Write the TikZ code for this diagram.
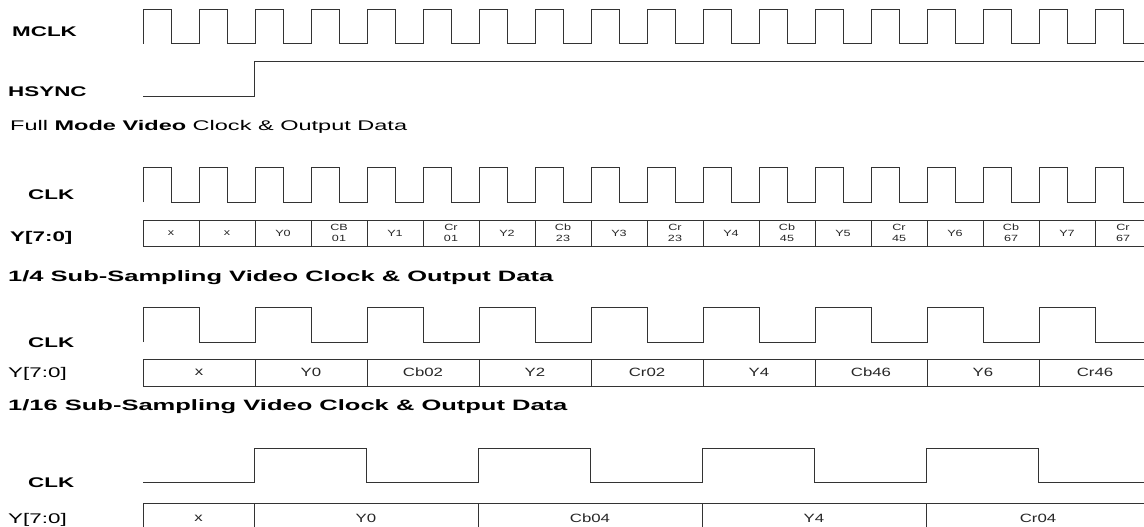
\documentclass[tikz,border=0pt]{standalone}
\usepackage{fontspec}
\setmainfont{Liberation Sans}
\newfontfamily\wideL[FakeStretch=1.6]{Liberation Sans}
\newfontfamily\wideT[FakeStretch=1.7]{Liberation Sans}
\newfontfamily\wideF[FakeStretch=1.68]{Liberation Sans}
\newfontfamily\wideC[FakeStretch=1.4]{Liberation Sans}
\begin{document}
\begin{tikzpicture}[x=1pt,y=-1pt,
  wave/.style={line width=1pt, draw=black!80, line join=miter},
  lbl/.style={anchor=base west, inner sep=0pt, font=\wideL\bfseries\fontsize{14}{16}\selectfont},
  lblr/.style={anchor=base west, inner sep=0pt, font=\wideL\fontsize{14}{16}\selectfont},
  ttl/.style={anchor=base west, inner sep=0pt, font=\wideT\bfseries\fontsize{15}{17}\selectfont},
  ttlr/.style={anchor=base west, inner sep=0pt, font=\wideF\fontsize{14}{16}\selectfont},
  cellA/.style={inner sep=0pt, font=\wideC\fontsize{9}{10.5}\selectfont, align=center, text=black!85},
  cellB/.style={inner sep=0pt, font=\wideC\fontsize{12}{14}\selectfont, text=black!85},
]
\useasboundingbox (0,0) rectangle (1144,527);
\clip (0,0) rectangle (1144,527);
\fill[white] (0,0) rectangle (1144,527);

% ---------- labels ----------
\node[lbl] (mclk) at (12,37) {MCLK};
\node[lbl] (hsync) at (8,96) {HSYNC};
\node[ttlr] (t1) at (10,130) {Full \textbf{Mode Video} Clock \& Output Data};
\node[lbl] (clk1) at (28,199) {CLK};
\node[lbl] (y1) at (10,241) {Y[7:0]};
\node[ttl] (t2) at (8,281) {1/4 Sub-Sampling Video Clock \& Output Data};
\node[lbl] (clk2) at (28,347) {CLK};
\node[lblr] (y2) at (8,377) {Y[7:0]};
\node[ttl] (t3) at (8,410) {1/16 Sub-Sampling Video Clock \& Output Data};
\node[lbl] (clk3) at (28,487) {CLK};
\node[lblr] (y3) at (8,523) {Y[7:0]};

% ---------- MCLK ----------
\draw[wave] (143,44) foreach \k in {0,...,17} {
  -- ({143+56*\k},10) -- ({171+56*\k},10) -- ({171+56*\k},44) -- ({199+56*\k},44) };
% ---------- HSYNC ----------
\draw[wave] (143,97) -- (254,97) -- (254,62) -- (1144,62);

% ---------- Full mode CLK ----------
\draw[wave] (143,202) foreach \k in {0,...,17} {
  -- ({143+56*\k},167) -- ({171+56*\k},167) -- ({171+56*\k},202) -- ({199+56*\k},202) };
% ---------- Full mode data ----------
\draw[wave] (143,220) -- (1144,220);
\draw[wave] (143,246) -- (1144,246);
\foreach \k in {0,...,17} \draw[wave] ({143+56*\k},220) -- ({143+56*\k},246);
\foreach \t [count=\i from 0] in {x,x,Y0,{CB\\01},Y1,{Cr\\01},Y2,{Cb\\23},Y3,{Cr\\23},Y4,{Cb\\45},Y5,{Cr\\45},Y6,{Cb\\67},Y7,{Cr\\67}}
  \node[cellA] (f\i) at ({171+56*\i},233) {\t};

% ---------- 1/4 CLK ----------
\draw[wave] (143,342) foreach \k in {0,...,8} {
  -- ({143+112*\k},307) -- ({199+112*\k},307) -- ({199+112*\k},342) -- ({255+112*\k},342) };
% ---------- 1/4 data ----------
\draw[wave] (143,359) -- (1144,359);
\draw[wave] (143,386) -- (1144,386);
\foreach \k in {0,...,8} \draw[wave] ({143+112*\k},359) -- ({143+112*\k},386);
\foreach \t [count=\i from 0] in {x,Y0,Cb02,Y2,Cr02,Y4,Cb46,Y6,Cr46}
  \node[cellB] (q\i) at ({199+112*\i},372.5) {\t};

% ---------- 1/16 CLK ----------
\draw[wave] (143,482) foreach \k in {0,...,3} {
  -- ({254+224*\k},482) -- ({254+224*\k},448) -- ({366+224*\k},448) -- ({366+224*\k},482) } -- (1144,482);
% ---------- 1/16 data ----------
\draw[wave] (143,503) -- (1144,503);
\foreach \xx in {143,254,478,702,926} \draw[wave] (\xx,503) -- (\xx,530);
\node[cellB] (s0) at (198.5,518) {x};
\node[cellB] (s1) at (366,518) {Y0};
\node[cellB] (s2) at (590,518) {Cb04};
\node[cellB] (s3) at (814,518) {Y4};
\node[cellB] (s4) at (1038,518) {Cr04};
\end{tikzpicture}
\end{document}
